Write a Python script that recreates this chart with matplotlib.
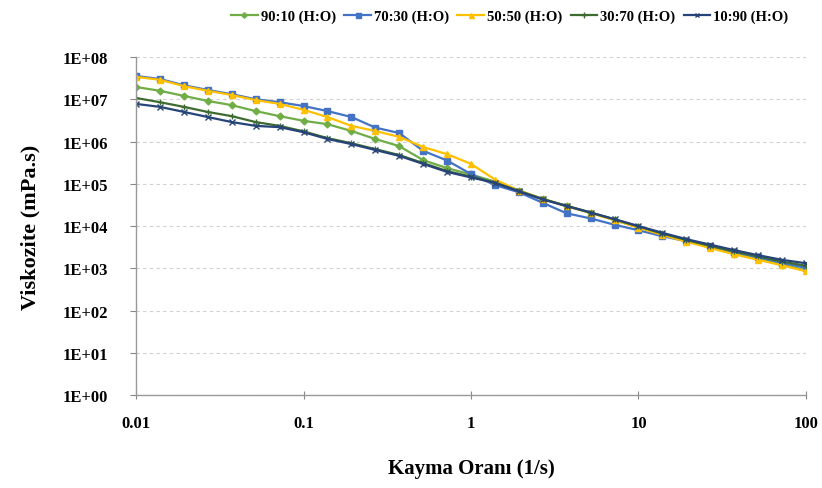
import numpy as np
import matplotlib.pyplot as plt
from matplotlib.ticker import FixedLocator, NullLocator

# shear rate (1/s), 7 points per decade
shear = [0.01, 0.0139, 0.0193, 0.0268, 0.0373, 0.0518, 0.0720,
         0.1, 0.139, 0.193, 0.268, 0.373, 0.518, 0.720,
         1.0, 1.39, 1.93, 2.68, 3.73, 5.18, 7.20,
         10.0, 13.9, 19.3, 26.8, 37.3, 51.8, 72.0, 100.0]

# log10 of viscosity (mPa.s)
log_90_10 = [7.29, 7.20, 7.08, 6.96, 6.86, 6.72, 6.60,
             6.49, 6.41, 6.25, 6.06, 5.89, 5.56, 5.37,
             5.22, 5.05, 4.84, 4.64, 4.47, 4.31, 4.14,
             3.97, 3.80, 3.64, 3.50, 3.35, 3.22, 3.09, 2.95]
log_70_30 = [7.55, 7.48, 7.33, 7.22, 7.12, 7.00, 6.93,
             6.84, 6.72, 6.58, 6.33, 6.20, 5.78, 5.55,
             5.23, 4.97, 4.80, 4.55, 4.30, 4.18, 4.03,
             3.90, 3.76, 3.64, 3.52, 3.38, 3.26, 3.13, 3.01]
log_50_50 = [7.53, 7.46, 7.31, 7.20, 7.10, 6.98, 6.89,
             6.75, 6.58, 6.37, 6.25, 6.11, 5.87, 5.70,
             5.47, 5.10, 4.84, 4.64, 4.47, 4.31, 4.14,
             3.96, 3.79, 3.63, 3.48, 3.33, 3.20, 3.07, 2.93]
log_30_70 = [7.03, 6.93, 6.82, 6.70, 6.60, 6.46, 6.37,
             6.24, 6.08, 5.96, 5.82, 5.68, 5.49, 5.30,
             5.17, 5.03, 4.83, 4.64, 4.48, 4.32, 4.16,
             3.99, 3.82, 3.67, 3.53, 3.40, 3.28, 3.16, 3.06]
log_10_90 = [6.89, 6.82, 6.70, 6.58, 6.46, 6.37, 6.34,
             6.22, 6.06, 5.94, 5.80, 5.66, 5.47, 5.28,
             5.15, 5.02, 4.82, 4.63, 4.47, 4.32, 4.16,
             4.00, 3.84, 3.69, 3.56, 3.43, 3.31, 3.20, 3.12]

labels = ['90:10 (H:O)', '70:30 (H:O)', '50:50 (H:O)', '30:70 (H:O)', '10:90 (H:O)']
colors = ['#70AD47', '#4472C4', '#FFC000', '#3E6B2F', '#264478']
markers = ['D', 's', '^', '+', 'x']
msizes = [3.5, 4.5, 4.5, 5, 4]

yticks = [1e0, 1e1, 1e2, 1e3, 1e4, 1e5, 1e6, 1e7, 1e8]
ytick_labels = ['1E+00', '1E+01', '1E+02', '1E+03', '1E+04', '1E+05', '1E+06', '1E+07', '1E+08']
xticks = [0.01, 0.1, 1, 10, 100]
xtick_labels = ['0.01', '0.1', '1', '10', '100']

plt.rcParams['font.family'] = ['Liberation Serif', 'DejaVu Serif']

fig = plt.figure(figsize=(8.22, 4.89), dpi=100)
ax = fig.add_axes([0.1655, 0.190, 0.815, 0.6914])

series = [log_90_10, log_70_30, log_50_50, log_30_70, log_10_90]
for vals, lab, c, m, ms in zip(series, labels, colors, markers, msizes):
    ax.plot(shear, 10 ** np.array(vals), color=c, marker=m, markersize=ms,
            lw=1.6, label=lab, clip_on=True)

ax.set_xscale('log')
ax.set_yscale('log')
ax.set_xlim(0.01, 100)
ax.set_ylim(1, 1e8)

ax.yaxis.set_major_locator(FixedLocator(yticks))
ax.yaxis.set_minor_locator(NullLocator())
ax.set_yticklabels(ytick_labels)
ax.xaxis.set_major_locator(FixedLocator(xticks))
ax.xaxis.set_minor_locator(NullLocator())
ax.set_xticklabels(xtick_labels)

for t in ax.get_xticklabels() + ax.get_yticklabels():
    t.set_fontweight('bold')
    t.set_fontsize(12)

ax.tick_params(axis='both', colors='#888888', labelcolor='black', length=4, width=0.8)
ax.tick_params(axis='x', direction='inout', pad=11, length=6)
ax.tick_params(axis='y', pad=16)

ax.grid(axis='y', color='#d0d0d0', ls=(0, (3, 3)), lw=0.8)
for s in ['top', 'right']:
    ax.spines[s].set_visible(False)
for s in ['left', 'bottom']:
    ax.spines[s].set_color('#999999')
    ax.spines[s].set_linewidth(1.0)

ax.set_ylabel('Viskozite (mPa.s)', fontsize=16, fontweight='bold', labelpad=16)
ax.set_xlabel('Kayma Oranı (1/s)', fontsize=15, fontweight='bold', labelpad=20)

fig.legend(loc='upper center', bbox_to_anchor=(0.62, 1.005), ncol=5, frameon=False,
           prop={'weight': 'bold', 'size': 10.5}, handlelength=1.8, handletextpad=0.2,
           columnspacing=0.6, markerscale=0.8)

fig.savefig('out.png', dpi=100)
